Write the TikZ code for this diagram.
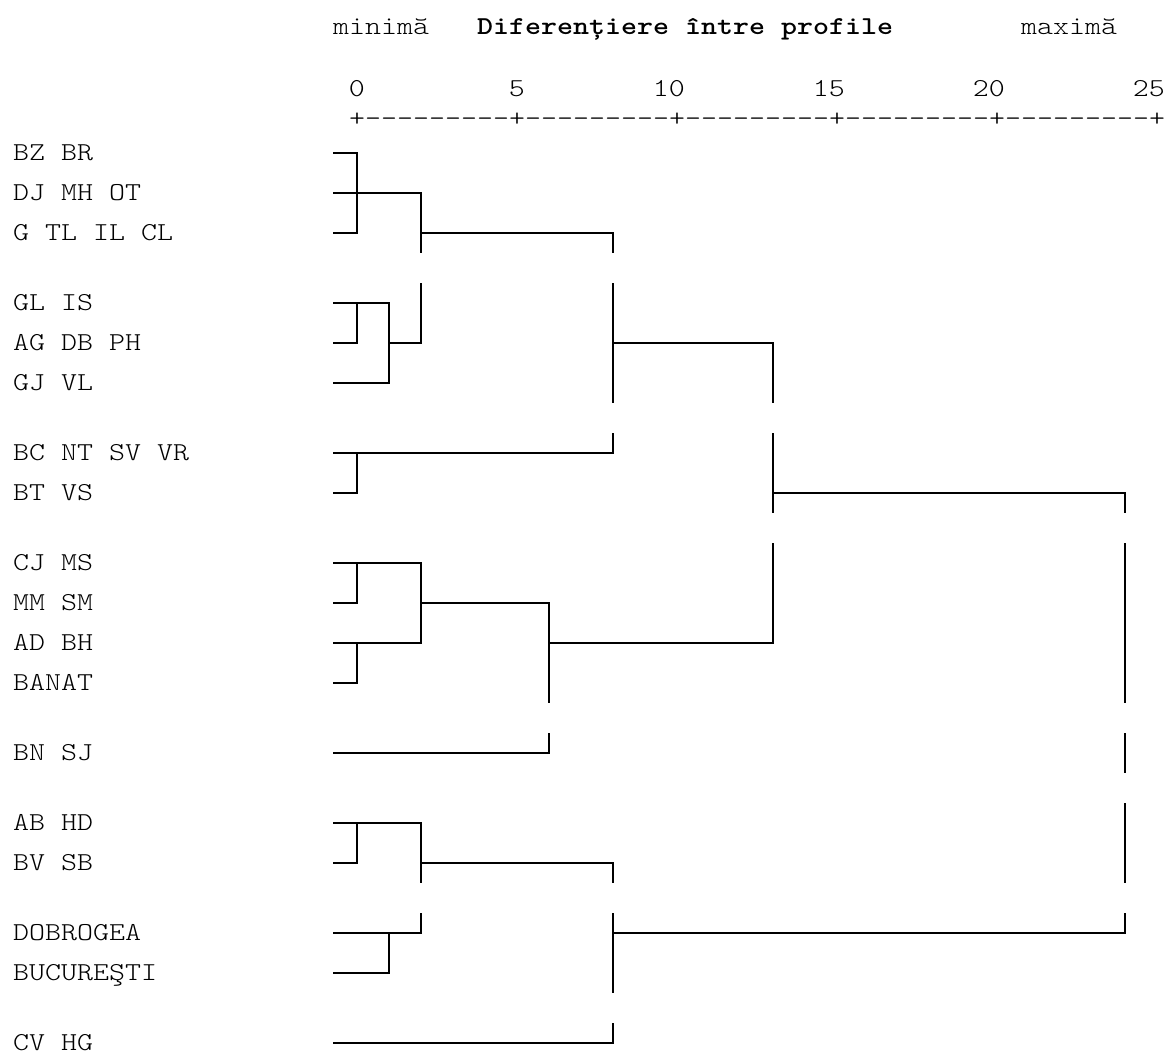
\documentclass[tikz,border=0pt]{standalone}
\usepackage{fontspec}
\usepackage{graphicx}
\makeatletter
\def\mstop{\mstop@x}
\newcommand\mt[1]{\mt@loop#1\mstop}
\def\mt@loop#1{\ifx#1\mstop\else\makebox[16pt][c]{\scalebox{1.18}[1]{#1}}\expandafter\mt@loop\fi}
\makeatother
\begin{document}
\begin{tikzpicture}[x=1pt,y=-1pt,
  txt/.style={font=\ttfamily\fontseries{l}\fontsize{25.8}{30}\selectfont, inner sep=0pt, text=black},
  lab/.style={txt, anchor=base west},
  num/.style={txt, anchor=base east},
  tree/.style={line width=2pt, black, line join=miter, line cap=butt}]
\useasboundingbox (0,0) rectangle (1167,1054);
% header
\node[lab] (tmin) at (333,35) {\mt{minimă}};
\node[lab, font=\ttfamily\bfseries\fontsize{25.8}{30}\selectfont] (title) at (477,35) {\mt{Diferențiere~între~profile}};
\node[lab] (tmax) at (1021,35) {\mt{maximă}};
\node[num] (n0) at (365,97) {\mt{0}};
\node[num] (n5) at (525,97) {\mt{5}};
\node[num] (n10) at (685,97) {\mt{10}};
\node[num] (n15) at (845,97) {\mt{15}};
\node[num] (n20) at (1005,97) {\mt{20}};
\node[num] (n25) at (1165,97) {\mt{25}};
\node[lab] (ticks) at (349,127) {\mt{+---------+---------+---------+---------+---------+}};
% labels
\foreach \t/\y/\n in {BZ~BR/153/l1, DJ~MH~OT/193/l2, G~TL~IL~CL/233/l3,
  GL~IS/303/l4, AG~DB~PH/343/l5, GJ~VL/383/l6,
  BC~NT~SV~VR/453/l7, BT~VS/493/l8,
  CJ~MS/563/l9, MM~SM/603/l10, AD~BH/643/l11, BANAT/683/l12,
  BN~SJ/753/l13, AB~HD/823/l14, BV~SB/863/l15,
  DOBROGEA/933/l16, BUCUREŞTI/973/l17, CV~HG/1043/l18}
  \node[lab] (\n) at (13,\y+7.6) {\expandafter\mt\expandafter{\t}};
% cluster 1
\draw[tree] (333,153) -| (357,233) -- (333,233);
\draw[tree] (333,193) -- (421,193) -- (421,253);
\draw[tree] (421,233) -- (613,233) -- (613,253);
% cluster 2
\draw[tree] (421,283) -- (421,343) -- (389,343);
\draw[tree] (333,303) -| (357,343) -- (333,343);
\draw[tree] (357,303) -- (389,303) -- (389,383) -- (333,383);
\draw[tree] (613,283) -- (613,403);
\draw[tree] (613,343) -- (773,343) -- (773,403);
% cluster 3
\draw[tree] (613,433) -- (613,453) -- (333,453);
\draw[tree] (357,453) -- (357,493) -- (333,493);
\draw[tree] (773,433) -- (773,513);
\draw[tree] (773,493) -- (1125,493) -- (1125,513);
% cluster 4
\draw[tree] (333,563) -- (421,563) -- (421,643) -- (333,643);
\draw[tree] (357,563) -- (357,603) -- (333,603);
\draw[tree] (357,643) -- (357,683) -- (333,683);
\draw[tree] (421,603) -- (549,603) -- (549,703);
\draw[tree] (549,643) -- (773,643) -- (773,543);
\draw[tree] (1125,543) -- (1125,703);
% cluster 5
\draw[tree] (333,753) -- (549,753) -- (549,733);
\draw[tree] (1125,733) -- (1125,773);
% cluster 6
\draw[tree] (333,823) -- (421,823) -- (421,883);
\draw[tree] (357,823) -- (357,863) -- (333,863);
\draw[tree] (421,863) -- (613,863) -- (613,883);
\draw[tree] (1125,803) -- (1125,883);
% cluster 7
\draw[tree] (333,933) -- (421,933) -- (421,913);
\draw[tree] (389,933) -- (389,973) -- (333,973);
\draw[tree] (613,913) -- (613,993);
\draw[tree] (613,933) -- (1125,933) -- (1125,913);
% cluster 8
\draw[tree] (333,1043) -- (613,1043) -- (613,1023);
\end{tikzpicture}
\end{document}
